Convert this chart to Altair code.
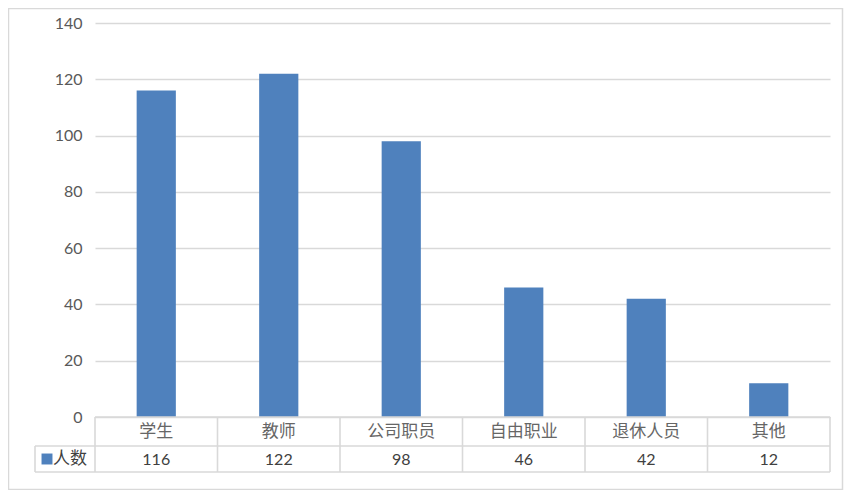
import altair as alt
import pandas as pd

categories = ["学生", "教师", "公司职员", "自由职业", "退休人员", "其他"]
counts = [116, 122, 98, 46, 42, 12]
series_name = "人数"
y_ticks = [0, 20, 40, 60, 80, 100, 120, 140]

df = pd.DataFrame({"cat": categories, "n": counts})
one = pd.DataFrame({"k": [0]})

W, H = 735, 394
ROW1 = 423
ROW2 = 449
LEFT = -60
GRID = "#d9d9d9"
NUMFONT = "Lato"
CJKFONT = "Noto Sans CJK SC"

xband = alt.Scale(paddingInner=0, paddingOuter=0)
xs = alt.X("cat:N", sort=categories, scale=xband, axis=None)

bars = alt.Chart(df).mark_bar(color="#4f81bd", width=alt.RelativeBandSize(0.32)).encode(
    x=xs,
    y=alt.Y("n:Q", scale=alt.Scale(domain=[0, 140], nice=False, zero=True),
            axis=alt.Axis(values=y_ticks, title=None, domain=False, ticks=False, grid=True,
                          gridColor=GRID, gridWidth=1.3, labelColor="#595959",
                          labelFontSize=16, labelFont=NUMFONT, labelPadding=13)),
)

def hrule(x1, x2, y):
    return alt.Chart(one).mark_rule(color=GRID, strokeWidth=1.6).encode(
        x=alt.value(x1), x2=alt.value(x2), y=alt.value(y))

def vrule(x, y1, y2):
    return alt.Chart(one).mark_rule(color=GRID, strokeWidth=1.6).encode(
        x=alt.value(x), y=alt.value(y1), y2=alt.value(y2))

vlines = alt.Chart(df).mark_rule(color=GRID, strokeWidth=1.6).encode(
    x=alt.X("cat:N", sort=categories, scale=xband, axis=None, bandPosition=0),
    y=alt.value(H), y2=alt.value(ROW2))

cat_text = alt.Chart(df).mark_text(font=CJKFONT, fontSize=17, color="#666666", baseline="middle").encode(
    x=xs, y=alt.value((H + ROW1) / 2), text="cat:N")

val_text = alt.Chart(df).mark_text(font=NUMFONT, fontSize=16, color="#404040", baseline="middle").encode(
    x=xs, y=alt.value((ROW1 + ROW2) / 2 + 1), text="n:Q")

legend_sq = alt.Chart(one).mark_point(shape="square", filled=True, size=120, color="#4f81bd", opacity=1).encode(
    x=alt.value(-48), y=alt.value((ROW1 + ROW2) / 2))

legend_txt = alt.Chart(pd.DataFrame({"s": [series_name]})).mark_text(
    font=CJKFONT, fontSize=17, color="#404040", align="left", baseline="middle").encode(
    x=alt.value(-42), y=alt.value((ROW1 + ROW2) / 2), text="s:N")

border = alt.Chart(one).mark_rect(fill=None, stroke=GRID, strokeWidth=1.5).encode(
    x=alt.value(-86.5), x2=alt.value(747.5), y=alt.value(-14.5), y2=alt.value(466.5))

chart = alt.layer(
    border, bars,
    hrule(0, W, H), hrule(LEFT, W, ROW1), hrule(LEFT, W, ROW2),
    vlines, vrule(W, H, ROW2), vrule(LEFT, ROW1, ROW2),
    cat_text, val_text, legend_sq, legend_txt,
).properties(
    width=W, height=H,
    padding={"left": 87, "top": 15, "right": 14, "bottom": 73},
    autosize=alt.AutoSizeParams(type="none"),
).configure_view(stroke=None)

chart.save("out.html", embed_options={"renderer": "svg", "actions": False})
